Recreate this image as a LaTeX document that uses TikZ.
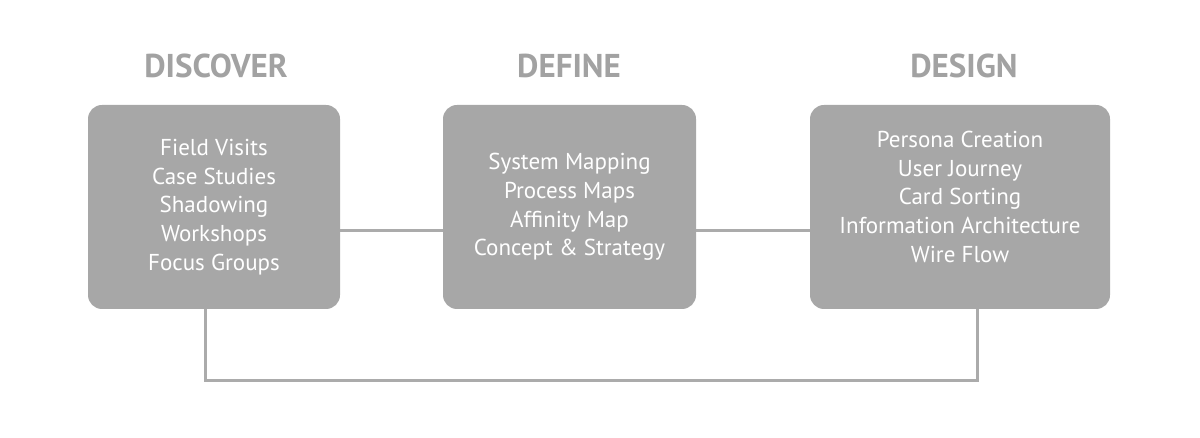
\documentclass[tikz,border=0pt]{standalone}
\usepackage{fontspec}
\setmainfont{PT Sans}
\usetikzlibrary{calc}
\definecolor{boxgray}{HTML}{A7A7A7}
\definecolor{linegray}{HTML}{ABABAB}
\definecolor{titlegray}{HTML}{A2A2A2}

\begin{document}
\begin{tikzpicture}[x=1pt, y=-1pt,
  phase/.style={fill=boxgray, rounded corners=14pt, text=white, align=center, inner sep=0pt,
    minimum height=204pt, font=\fontsize{23}{28.7}\selectfont},
  title/.style={text=titlegray, inner sep=0pt, font=\bfseries\fontsize{33}{33}\selectfont},
  link/.style={draw=linegray, line width=3pt}]
\useasboundingbox (0,0) rectangle (1200,438);
\node[title] (t1) at (216,66) {DISCOVER};
\node[title] (t2) at (569,66) {DEFINE};
\node[title] (t3) at (964,66) {DESIGN};
\node[phase, minimum width=252pt] (disc) at (214,207) {Field Visits\\Case Studies\\Shadowing\\Workshops\\Focus Groups};
\node[phase, minimum width=253pt] (defi) at (569.5,207) {System Mapping\\Process Maps\\Affinity Map\\Concept \& Strategy};
\node[phase, minimum width=300pt] (desi) at (960,207) {\begin{tabular}{@{}c@{}}Persona Creation\\User Journey\\Card Sorting\\Information Architecture\\Wire Flow\\[16pt]\end{tabular}};
\coordinate (loopL) at (205,381);
\coordinate (loopR) at (977,381);
\draw[link] (disc.east |- 0,231) -- (defi.west |- 0,231);
\draw[link] (defi.east |- 0,231) -- (desi.west |- 0,231);
\draw[link] (disc.south -| loopL) -- (loopL) -- (loopR) -- (desi.south -| loopR);
\end{tikzpicture}
\end{document}
